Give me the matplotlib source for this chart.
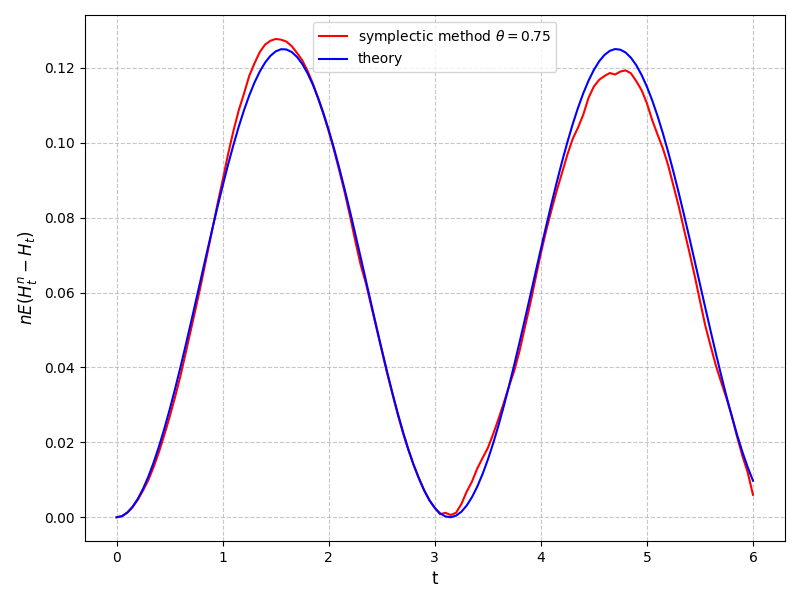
import numpy as np
from matplotlib import pyplot as plt

# values, t = 0.00, 0.05, ..., 6.00
t_vals = [round(0.05 * i, 2) for i in range(121)]

symplectic = [
    0.0, 0.0003, 0.0012, 0.0027, 0.0047, 0.0072, 0.0100, 0.0135, 0.0175, 0.0220,
    0.0268, 0.0320, 0.0375, 0.0437, 0.0500, 0.0563, 0.0628, 0.0697, 0.0765, 0.0835,
    0.0900, 0.0968, 0.1030, 0.1085, 0.1130, 0.1178, 0.1212, 0.1242, 0.1262, 0.1272,
    0.1277, 0.1275, 0.1270, 0.1258, 0.1240, 0.1220, 0.1192, 0.1158, 0.1118, 0.1076,
    0.1030, 0.0980, 0.0925, 0.0868, 0.0805, 0.0738, 0.0675, 0.0625, 0.0565, 0.0505,
    0.0445, 0.0385, 0.0330, 0.0275, 0.0225, 0.0180, 0.0140, 0.0105, 0.0072, 0.0045,
    0.0025, 0.0008, 0.0012, 0.0006, 0.0012, 0.0035, 0.0068, 0.0095, 0.0130, 0.0158,
    0.0185, 0.0222, 0.0262, 0.0305, 0.0350, 0.0392, 0.0445, 0.0508, 0.0570, 0.0638,
    0.0705, 0.0765, 0.0820, 0.0872, 0.0920, 0.0968, 0.1010, 0.1040, 0.1075, 0.1120,
    0.1150, 0.1168, 0.1178, 0.1186, 0.1182, 0.1190, 0.1193, 0.1185, 0.1164, 0.1140,
    0.1105, 0.1060, 0.1022, 0.0985, 0.0940, 0.0885, 0.0830, 0.0768, 0.0708, 0.0645,
    0.0578, 0.0512, 0.0458, 0.0405, 0.0361, 0.0318, 0.0271, 0.0215, 0.0164, 0.0120,
    0.0060,
]

theory = [
    0.0, 0.00031, 0.00125, 0.00279, 0.00493, 0.00765, 0.01091, 0.01470, 0.01896, 0.02365,
    0.02873, 0.03415, 0.03984, 0.04578, 0.05188, 0.05808, 0.06433, 0.07055, 0.07670, 0.08271,
    0.08851, 0.09405, 0.09926, 0.10414, 0.10859, 0.11257, 0.11606, 0.11900, 0.12139, 0.12318,
    0.12437, 0.12495, 0.12489, 0.12422, 0.12292, 0.12103, 0.11855, 0.11551, 0.11193, 0.10787,
    0.10335, 0.09843, 0.09314, 0.08755, 0.08171, 0.07567, 0.06951, 0.06327, 0.05703, 0.05084,
    0.04477, 0.03888, 0.03322, 0.02785, 0.02283, 0.01821, 0.01403, 0.01033, 0.00716, 0.00453,
    0.00249, 0.00105, 0.00022, 0.00001, 0.00043, 0.00146, 0.00311, 0.00535, 0.00816, 0.01152,
    0.01538, 0.01972, 0.02448, 0.02962, 0.03509, 0.04084, 0.04680, 0.05291, 0.05914, 0.06538,
    0.07160, 0.07772, 0.08370, 0.08946, 0.09496, 0.10013, 0.10493, 0.10929, 0.11319, 0.11659,
    0.11944, 0.12173, 0.12343, 0.12451, 0.12500, 0.12482, 0.12405, 0.12265, 0.12066, 0.11807,
    0.11494, 0.11128, 0.10714, 0.10255, 0.09756, 0.09222, 0.08659, 0.08070, 0.07465, 0.06846,
    0.06223, 0.05598, 0.04981, 0.04376, 0.03791, 0.03229, 0.02699, 0.02203, 0.01748, 0.01339,
    0.00976,
]

fig, ax = plt.subplots(figsize=(8, 6), dpi=100)
ax.plot(t_vals, symplectic, color='red', lw=1.5, label=r'symplectic method $\theta=0.75$')
ax.plot(t_vals, theory, color='blue', lw=1.5, label='theory')
ax.set_xlabel('t', fontsize=12)
ax.set_ylabel(r'$nE(H_t^n - H_t)$', fontsize=12)
ax.grid(True, linestyle='--', alpha=0.7)
ax.legend(loc='upper center')
fig.subplots_adjust(left=0.106, right=0.981, top=0.975, bottom=0.098)
fig.savefig('out.png')
